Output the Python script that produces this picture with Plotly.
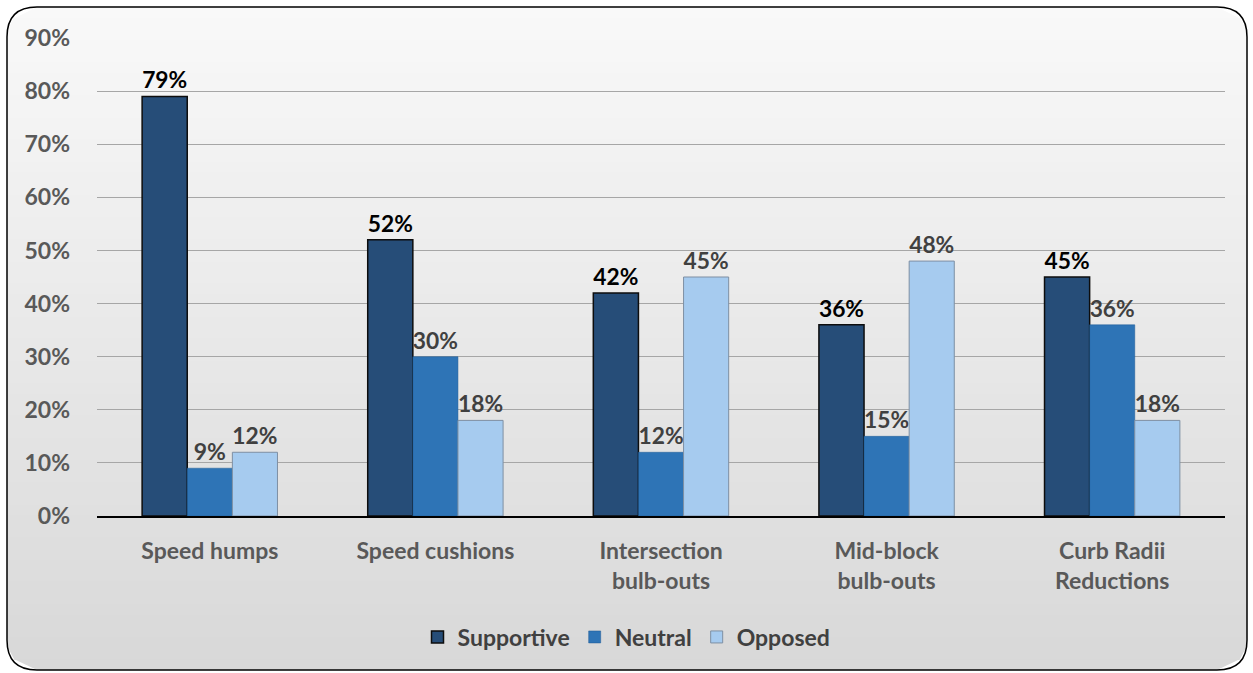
import math
import plotly.graph_objects as go

categories = ["Speed humps", "Speed cushions", "Intersection<br>bulb-outs", "Mid-block<br>bulb-outs", "Curb Radii<br>Reductions"]
supportive = [79, 52, 42, 36, 45]
neutral = [9, 30, 12, 15, 36]
opposed = [12, 18, 45, 48, 18]
y_ticks = [0, 10, 20, 30, 40, 50, 60, 70, 80, 90]
y_ticklabels = [f"{v}%" for v in y_ticks]

W, H = 1253, 673
FONT = "Lato"
FS = 23

fig = go.Figure()
series = [
    ("Supportive", supportive, "#264d78", "#0d0d0d", 1.5, "#000000"),
    ("Neutral", neutral, "#2e74b6", "#1f5a94", 0.5, "#404040"),
    ("Opposed", opposed, "#a6cbef", "#7e8fa3", 1.0, "#404040"),
]
for name, vals, color, lcolor, lw, tcolor in series:
    fig.add_trace(go.Bar(
        name=name, x=categories, y=vals,
        marker=dict(color=color, line=dict(color=lcolor, width=lw)),
        text=[f"{v}%" for v in vals], textposition="outside", cliponaxis=False,
        textfont=dict(family=FONT, size=FS, color=tcolor, weight="bold"),
    ))

# rounded chart-area background with vertical gradient (pixel geometry -> paper fractions)
X0, Y0, X1, Y1, R = 7, 7, 1247, 670, 30
def px(x):
    return x / W
def py(y):
    return 1 - y / H

def inset(y):
    d = min(y - Y0, Y1 - y)
    if d >= R:
        return 0.0
    return R - math.sqrt(max(R * R - (R - d) ** 2, 0))

N = 60
top_c, bot_c = (249, 249, 249), (216, 216, 216)
for i in range(N):
    ya = Y0 + (Y1 - Y0) * i / N
    yb = min(Y0 + (Y1 - Y0) * (i + 1) / N + 1.0, Y1)
    t = (i + 0.5) / N
    c = tuple(round(top_c[k] + (bot_c[k] - top_c[k]) * t) for k in range(3))
    ia, ib = inset(ya), inset(yb)
    p = (f"M {px(X0+ia)},{py(ya)} L {px(X1-ia)},{py(ya)} L {px(X1-ib)},{py(yb)} "
         f"L {px(X0+ib)},{py(yb)} Z")
    fig.add_shape(type="path", path=p, xref="paper", yref="paper",
                  fillcolor=f"rgb{c}", line=dict(width=0), layer="below")

x0, y0, x1, y1 = px(X0), py(Y0), px(X1), py(Y1)
rx, ry = R / W, R / H
path = (f"M {x0+rx},{y0} L {x1-rx},{y0} Q {x1},{y0} {x1},{y0-ry} "
        f"L {x1},{y1+ry} Q {x1},{y1} {x1-rx},{y1} L {x0+rx},{y1} "
        f"Q {x0},{y1} {x0},{y1+ry} L {x0},{y0-ry} Q {x0},{y0} {x0+rx},{y0} Z")
fig.add_shape(type="path", path=path, xref="paper", yref="paper",
              fillcolor="rgba(0,0,0,0)", line=dict(color="#000000", width=1.5), layer="below")

fig.update_layout(
    width=W, height=H,
    margin=dict(l=0, r=0, t=0, b=0, autoexpand=False),
    paper_bgcolor="#ffffff", plot_bgcolor="rgba(0,0,0,0)",
    barmode="group", bargap=0.4, bargroupgap=0,
    font=dict(family=FONT, color="#595959"),
    showlegend=True,
    legend=dict(orientation="h", x=0.5, xanchor="center", y=py(637), yanchor="middle",
                font=dict(family=FONT, size=FS, color="#404040", weight="bold"),
                bgcolor="rgba(0,0,0,0)", traceorder="normal"),
    xaxis=dict(domain=[px(97), px(1225)], showline=True, linecolor="#000000", linewidth=1.5,
               tickfont=dict(family=FONT, size=FS, color="#595959", weight="bold"),
               ticklabelstandoff=14, showgrid=False, automargin=False),
    yaxis=dict(domain=[py(516), py(38)], range=[0, 90],
               tickvals=y_ticks, ticktext=y_ticklabels,
               tickfont=dict(family=FONT, size=FS, color="#595959", weight="bold"),
               showgrid=True, gridcolor="#a6a6a6", gridwidth=1.2, zeroline=False,
               ticklabelstandoff=26, showline=False, automargin=False),
)

fig.write_html("out.html", config={"displayModeBar": False},
               post_script="document.body.style.margin='0px';")
